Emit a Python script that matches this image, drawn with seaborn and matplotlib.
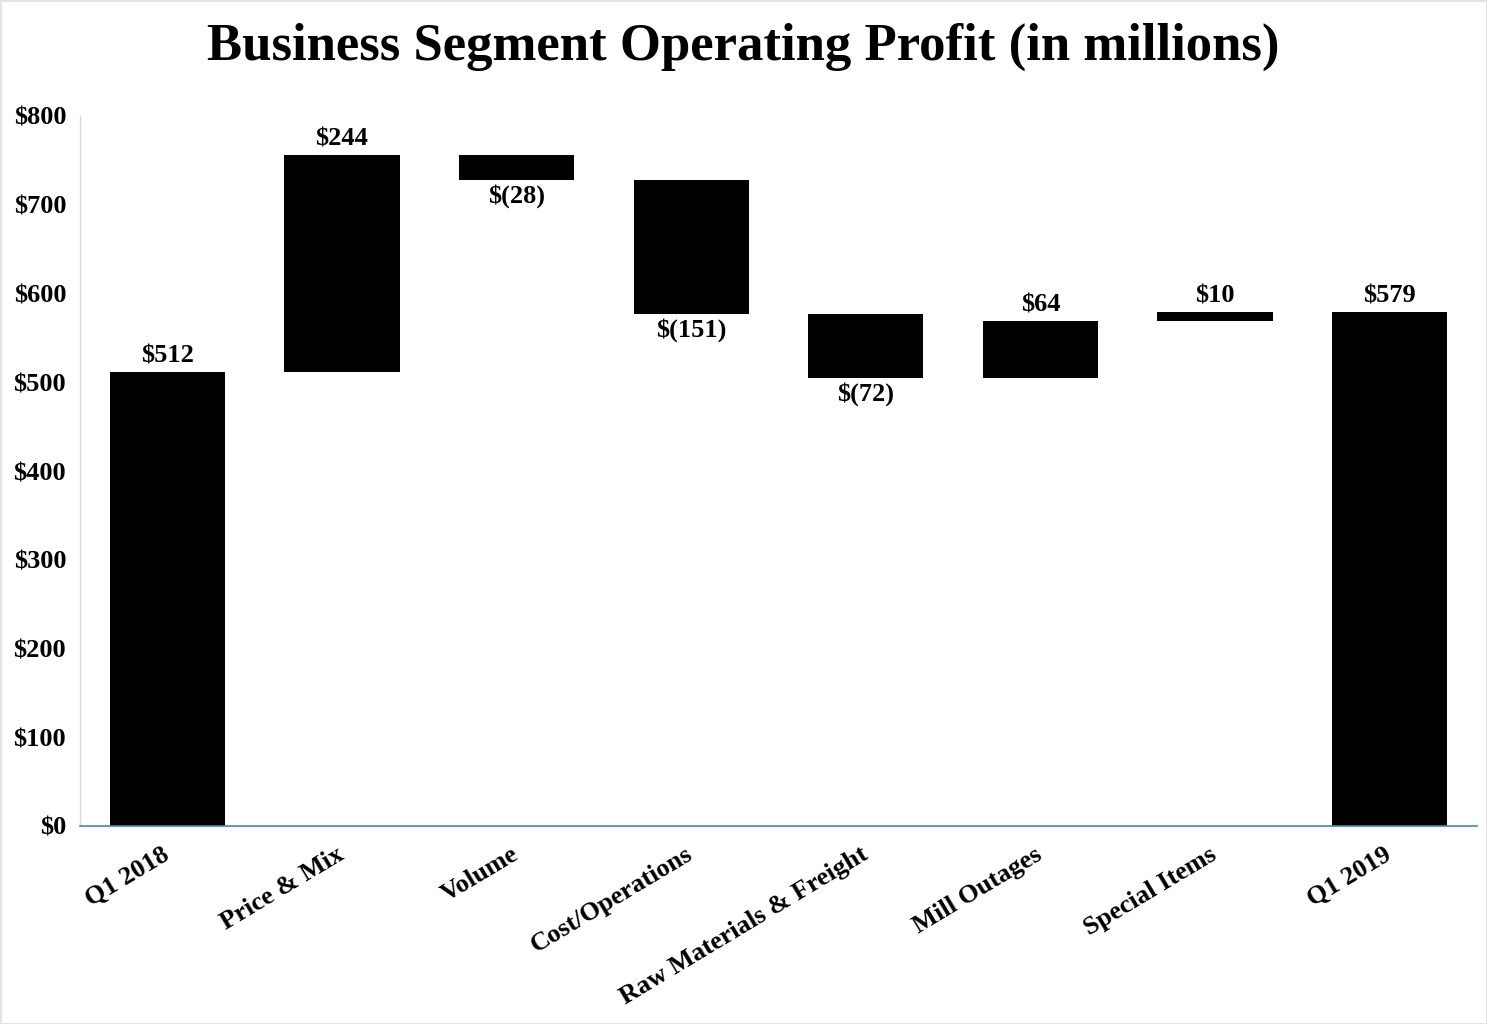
import numpy as np
import pandas as pd
import matplotlib
matplotlib.use("Agg")
import matplotlib.pyplot as plt
import matplotlib.transforms as mtransforms
import seaborn as sns

categories = ["Q1 2018", "Price & Mix", "Volume", "Cost/Operations",
              "Raw Materials & Freight", "Mill Outages", "Special Items", "Q1 2019"]
changes = [512, 244, -28, -151, -72, 64, 10, 579]
is_total = [True, False, False, False, False, False, False, True]
value_labels = ["$512", "$244", "$(28)", "$(151)", "$(72)", "$64", "$10", "$579"]
yticks = [0, 100, 200, 300, 400, 500, 600, 700, 800]
ytick_labels = ["$0", "$100", "$200", "$300", "$400", "$500", "$600", "$700", "$800"]

# waterfall geometry derived from data
bottoms, heights = [], []
running = 0
for c, t in zip(changes, is_total):
    if t:
        bottoms.append(0)
        heights.append(c)
        running = c
    else:
        start = running
        running = running + c
        bottoms.append(min(start, running))
        heights.append(abs(c))
bottoms = np.array(bottoms, dtype=float)
heights = np.array(heights, dtype=float)

df = pd.DataFrame({"category": categories, "height": heights})

sns.set_style("white")
plt.rcParams["font.family"] = ["Liberation Serif", "DejaVu Serif"]
plt.rcParams["font.weight"] = "bold"
plt.rcParams["text.color"] = "black"
plt.rcParams["xtick.color"] = "black"
plt.rcParams["ytick.color"] = "black"
plt.rcParams["axes.labelcolor"] = "black"

fig = plt.figure(figsize=(14.87, 10.24), dpi=100)
fig.patch.set_edgecolor("#e3e3e3")
fig.patch.set_linewidth(2)
ax = fig.add_axes([80/1487, 1 - 826/1024, (1477 - 80)/1487, (826 - 116)/1024])

sns.barplot(data=df, x="category", y="height", order=categories, color="black",
            saturation=1, width=0.66, bottom=bottoms, ax=ax, edgecolor="none")

ax.set_ylim(0, 800)
ax.set_xlim(-0.5, len(categories) - 0.5)
ax.set_yticks(yticks)
ax.set_yticklabels(ytick_labels, fontsize=19, fontweight="bold", color="black")
ax.set_xticks(range(len(categories)))
ax.set_xticklabels(categories, fontsize=19, fontweight="bold", rotation=31,
                   ha="right", rotation_mode="anchor", color="black")
ax.tick_params(axis="x", length=0, pad=12)
ax.tick_params(axis="y", length=0, pad=10)
ax.set_xlabel("")
ax.set_ylabel("")
shift = mtransforms.ScaledTranslation(-6/100, 0, fig.dpi_scale_trans)
for lbl in ax.get_xticklabels():
    lbl.set_transform(lbl.get_transform() + shift)

for s in ["top", "right"]:
    ax.spines[s].set_visible(False)
ax.spines["left"].set_color("#d9d9d9")
ax.spines["left"].set_linewidth(1)
ax.spines["bottom"].set_color("#4f81bd")
ax.spines["bottom"].set_linewidth(1.2)

for i, (c, t) in enumerate(zip(changes, is_total)):
    top = bottoms[i] + heights[i]
    if t or c >= 0:
        ax.annotate(value_labels[i], (i, top), xytext=(0, 3), textcoords="offset points",
                    ha="center", va="bottom", fontsize=19, fontweight="bold", color="black")
    else:
        ax.annotate(value_labels[i], (i, bottoms[i]), xytext=(0, -3), textcoords="offset points",
                    ha="center", va="top", fontsize=19, fontweight="bold", color="black")

fig.text(0.5, 1 - 47/1024, "Business Segment Operating Profit (in millions)",
         ha="center", va="center", fontsize=38, fontweight="bold", color="black")

fig.savefig("out.png", dpi=100, facecolor="white", edgecolor=fig.get_edgecolor())
